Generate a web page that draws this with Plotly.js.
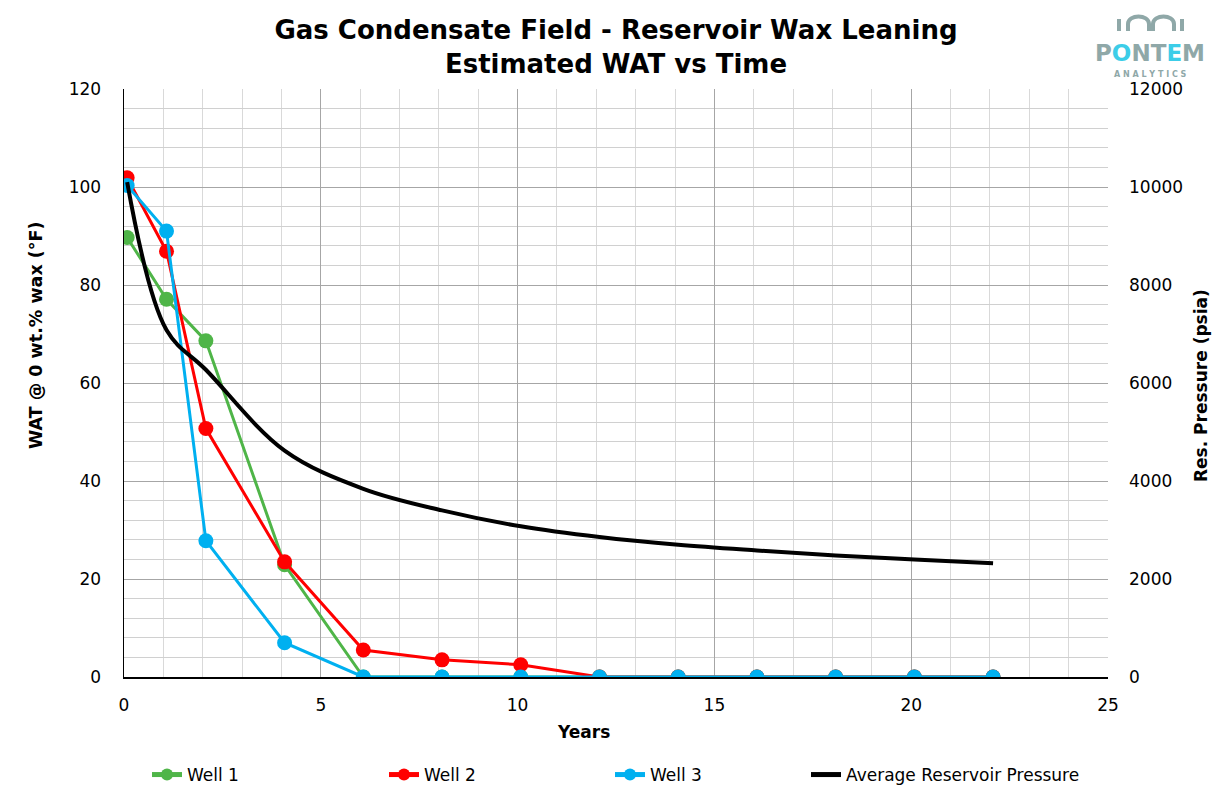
<!DOCTYPE html>
<html>
<head>
<meta charset="utf-8">
<script src="https://cdn.plot.ly/plotly-3.0.1.min.js"></script>
<style>
  html, body { margin: 0; padding: 0; background: #fff; }
  #chart { width: 1231px; height: 805px; }
</style>
</head>
<body>
<div id="chart"></div>
<script>
// years since start of production
var years = [0.08, 1.08, 2.08, 4.08, 6.08, 8.08, 10.08, 12.08, 14.08, 16.08, 18.08, 20.08, 22.08];

// WAT @ 0 wt.% wax (°F)
var well1 = [89.7, 77.1, 68.6, 22.9, 0, 0, 0, 0, 0, 0, 0, 0, 0];
var well2 = [101.9, 86.9, 50.7, 23.5, 5.5, 3.5, 2.5, 0, 0, 0, 0, 0, 0];
var well3 = [100.3, 91.0, 27.8, 7.0, 0, 0, 0, 0, 0, 0, 0, 0, 0];

// average reservoir pressure (psia)
var pressure = [10100, 7080, 6270, 4620, 3840, 3400, 3075, 2855, 2697, 2581, 2479, 2397, 2321];

var seriesNames = ['Well 1', 'Well 2', 'Well 3', 'Average Reservoir Pressure'];
var seriesColors = ['#4fb548', '#ff0000', '#00b0f0', '#000000'];

// plot area in pixels, used to place the decorations
var L = 124, R = 1108, T = 89, B = 677;
function px(x) { return (x - L) / (R - L); }
function py(y) { return (B - y) / (B - T); }

function wellTrace(i, vals) {
    return {
        x: years,
        y: vals,
        name: seriesNames[i],
        type: 'scatter',
        mode: 'lines+markers',
        line: { color: seriesColors[i], width: 3 },
        marker: { color: seriesColors[i], size: 15 },
        legend: i === 0 ? 'legend' : 'legend' + (i + 1)
    };
}

var data = [
    wellTrace(0, well1),
    wellTrace(1, well2),
    wellTrace(2, well3),
    {
        x: years,
        y: pressure,
        name: seriesNames[3],
        type: 'scatter',
        mode: 'lines',
        yaxis: 'y2',
        line: { color: '#000', width: 4, shape: 'spline', smoothing: 1 },
        legend: 'legend4'
    }
];

function legendAt(x) {
    return {
        x: px(x), xanchor: 'left',
        y: py(775), yanchor: 'middle',
        orientation: 'h',
        itemsizing: 'constant',
        bgcolor: 'rgba(0,0,0,0)',
        font: { family: 'DejaVu Sans', size: 17, color: '#000' }
    };
}

var tickFont = { family: 'DejaVu Sans', size: 17, color: '#000' };
var logoGrey = '#8fa8a8';
var logoCyan = '#3ccde8';

// logo arches
var logoShapes = [
    'M1119,31 L1119,19',
    'M1128,31 L1128,24 C1128,14 1149,14 1149,24 L1149,31',
    'M1153,31 L1153,24 C1153,14 1174,14 1174,24 L1174,31',
    'M1182,31 L1182,19'
].map(function (p) {
    var path = p.replace(/(\d+),(\d+)/g, function (m, a, b) {
        return px(+a).toFixed(5) + ',' + py(+b).toFixed(5);
    });
    return {
        type: 'path', xref: 'paper', yref: 'paper', path: path,
        line: { color: logoGrey, width: 4 }
    };
});

function label(text, x, y, size, angle) {
    return {
        text: text, xref: 'paper', yref: 'paper',
        x: px(x), y: py(y), xanchor: 'center', yanchor: 'middle',
        textangle: angle || 0,
        showarrow: false,
        font: { family: 'DejaVu Sans', size: size, color: '#000', weight: 'bold' }
    };
}

var layout = {
    width: 1231,
    height: 805,
    margin: { l: L, r: 1231 - R, t: T, b: 805 - B },
    paper_bgcolor: '#fff',
    plot_bgcolor: '#fff',
    showlegend: true,
    title: {
        text: 'Gas Condensate Field - Reservoir Wax Leaning<br>Estimated WAT vs Time',
        font: { family: 'DejaVu Sans', size: 26, color: '#000', weight: 'bold' },
        x: 0.5, xref: 'paper', xanchor: 'center',
        y: 1 - 39 / 805, yanchor: 'middle'
    },
    xaxis: {
        range: [0, 25],
        dtick: 5,
        showgrid: true,
        gridcolor: '#a6a6a6',
        gridwidth: 1,
        minor: { dtick: 1, showgrid: true, gridcolor: '#d9d9d9', gridwidth: 1 },
        showline: true,
        linecolor: '#000',
        linewidth: 1.5,
        zeroline: false,
        ticks: '',
        ticklabelstandoff: 12,
        tickfont: tickFont
    },
    yaxis: {
        range: [0, 120],
        dtick: 20,
        showgrid: true,
        gridcolor: '#a6a6a6',
        gridwidth: 1,
        minor: { dtick: 4, showgrid: true, gridcolor: '#d0d0d0', gridwidth: 1 },
        showline: true,
        linecolor: '#000',
        linewidth: 1.5,
        zeroline: false,
        ticks: '',
        ticklabelstandoff: 18,
        tickfont: tickFont
    },
    yaxis2: {
        overlaying: 'y',
        side: 'right',
        range: [0, 12000],
        dtick: 2000,
        tickformat: 'd',
        showgrid: false,
        showline: false,
        zeroline: false,
        ticks: '',
        ticklabelstandoff: 20,
        tickfont: tickFont
    },
    legend: legendAt(147),
    legend2: legendAt(384),
    legend3: legendAt(610),
    legend4: legendAt(806),
    shapes: logoShapes,
    annotations: [
        label('Years', 583, 732, 17),
        label('WAT @ 0 wt.% wax (°F)', 36, 336, 17.5, -90),
        label('Res. Pressure (psia)', 1201, 386, 17, -90),
        {
            text: 'P<span style="color:' + logoCyan + '">O</span>NT<span style="color:' + logoCyan + '">E</span>M',
            xref: 'paper', yref: 'paper',
            x: px(1150), y: py(53), xanchor: 'center', yanchor: 'middle',
            showarrow: false,
            font: { family: 'DejaVu Sans', size: 23, color: logoGrey, weight: 'bold' }
        },
        {
            text: 'A N A L Y T I C S',
            xref: 'paper', yref: 'paper',
            x: px(1150), y: py(74), xanchor: 'center', yanchor: 'middle',
            showarrow: false,
            font: { family: 'DejaVu Sans', size: 8, color: logoGrey, weight: 'bold' }
        }
    ]
};

Plotly.newPlot('chart', data, layout, { staticPlot: true });
</script>
</body>
</html>
